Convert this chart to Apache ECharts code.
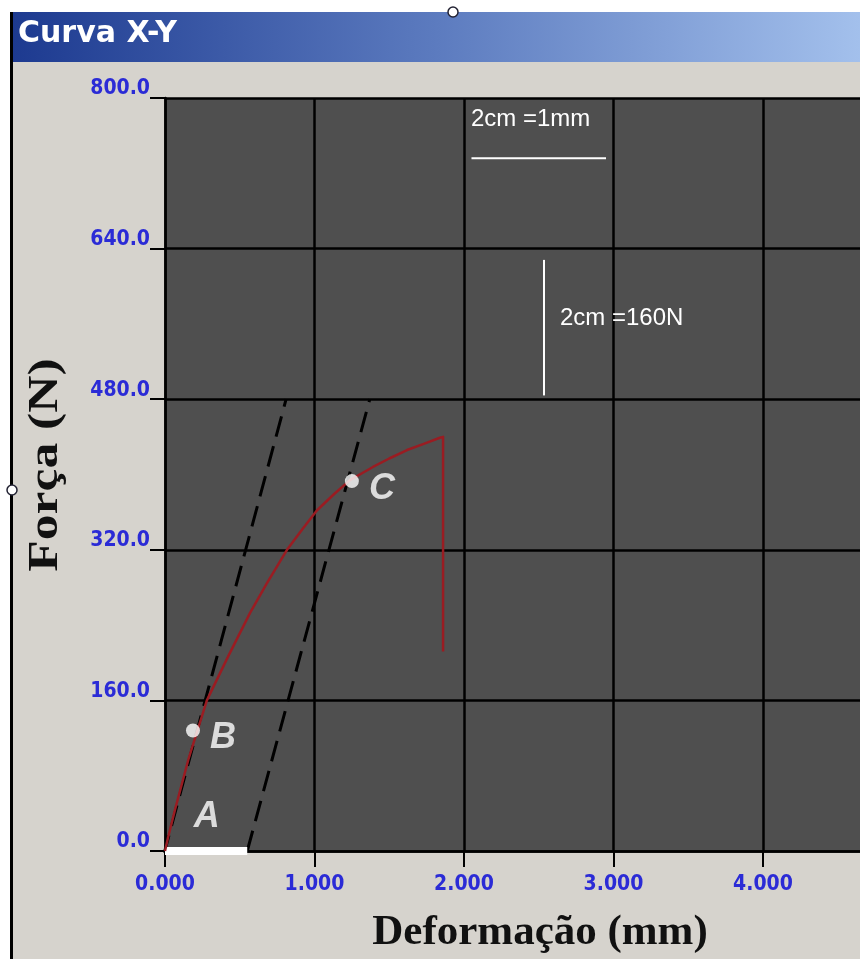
<!DOCTYPE html>
<html><head><meta charset="utf-8">
<script src="https://cdn.jsdelivr.net/npm/echarts@6/dist/echarts.min.js"></script>
<style>html,body{margin:0;padding:0;background:#fff}#c{width:860px;height:959px}</style>
</head><body><div id="c"></div>
<script>
// ---- data ----
const xTickLabels = ['0.000','1.000','2.000','3.000','4.000'];
const yTickLabels = ['0.0','160.0','320.0','480.0','640.0','800.0'];
const curveX = [0, 0.02, 0.067, 0.156, 0.28, 0.42, 0.569, 0.68, 0.816, 0.92, 1.017, 1.13, 1.237, 1.391, 1.50, 1.619, 1.74, 1.839, 1.86, 1.86];
const curveY = [0, 14, 44, 97, 160, 206, 253, 284, 320, 342, 362, 379, 394, 408, 417, 426, 433, 439, 440, 212];
const dashLine1 = [[-0.01, -5], [0.81, 480]];
const dashLine2 = [[0.55, 0], [1.37, 480]];
const segmentA = [[0, 0], [0.55, 0]];
const labelA = [[0.28, 0, 'A']];
const pointsBC = [[0.187, 128, 'B'], [1.25, 393, 'C']];
const scaleBarX = [[2.05, 736], [2.95, 736]];
const scaleBarY = [[2.535, 628], [2.535, 484]];
const titleText = 'Curva X-Y';
const xName = 'Deformação (mm)';
const yName = 'Força (N)';
const scaleXText = '2cm =1mm';
const scaleYText = '2cm =160N';

const curve = curveX.map((x, i) => [x, curveY[i]]);
const chart = echarts.init(document.getElementById('c'));
const blue = '#2b2bd6';
const labelFont = 'DejaVu Sans Condensed, DejaVu Sans';

chart.setOption({
  backgroundColor: '#d6d3cd',
  animation: false,
  grid: {left: 165, top: 98, width: 747.5, bottom: 108, outerBoundsMode: 'none', containLabel: false,
    show: true, backgroundColor: '#4f4f4f', borderWidth: 0},
  xAxis: {
    type: 'value', min: 0, max: 5, interval: 1,
    axisLine: {show: true, lineStyle: {color: '#000', width: 2.5}},
    axisTick: {show: true, length: 16, lineStyle: {color: '#000', width: 2}},
    splitLine: {show: true, lineStyle: {color: '#000', width: 2.5}},
    axisLabel: {color: blue, fontFamily: labelFont, fontWeight: 'bold', fontSize: 21, lineHeight: 22,
      margin: 23, verticalAlign: 'top', showMaxLabel: false,
      formatter: v => (Math.abs(v - Math.round(v)) < 1e-6 ? (xTickLabels[Math.round(v)] || '') : '')}
  },
  yAxis: {
    type: 'value', min: 0, max: 800, interval: 160,
    axisLine: {show: true, lineStyle: {color: '#000', width: 2.5}},
    axisTick: {show: true, length: 15, lineStyle: {color: '#000', width: 2}},
    splitLine: {show: true, lineStyle: {color: '#000', width: 2.5}},
    axisLabel: {color: blue, fontFamily: labelFont, fontWeight: 'bold', fontSize: 21, lineHeight: 18,
      margin: 15, align: 'right', verticalAlign: 'bottom',
      formatter: v => yTickLabels[Math.round(v / 160)] || ''}
  },
  series: [
    {type: 'line', data: dashLine1, symbol: 'none', lineStyle: {color: '#000', width: 3, type: [21, 10]}, z: 2},
    {type: 'line', data: dashLine2, symbol: 'none', lineStyle: {color: '#000', width: 3, type: [21, 10]}, z: 2},
    {type: 'line', data: segmentA, symbol: 'none', clip: false, lineStyle: {color: '#fff', width: 8}, z: 3},
    {type: 'line', data: curve, symbol: 'none', lineStyle: {color: '#9a1c22', width: 2.5, join: 'round'}, z: 4},
    {type: 'line', data: scaleBarX, symbol: 'none', lineStyle: {color: '#fff', width: 2}, z: 3},
    {type: 'line', data: scaleBarY, symbol: 'none', lineStyle: {color: '#fff', width: 2}, z: 3},
    {type: 'scatter', data: pointsBC, symbolSize: 14, itemStyle: {color: '#fff'}, z: 5,
      label: {show: true, position: 'right', distance: 10, formatter: p => p.data[2], color: '#fff',
        fontFamily: 'Liberation Sans, Arial', fontWeight: 'bold', fontStyle: 'italic', fontSize: 36,
        offset: [0, 8]}},
    {type: 'scatter', data: labelA, symbolSize: 0, z: 5,
      label: {show: true, position: 'top', distance: 16, formatter: p => p.data[2], color: '#fff',
        fontFamily: 'Liberation Sans, Arial', fontWeight: 'bold', fontStyle: 'italic', fontSize: 36}}
  ],
  graphic: [
    {type: 'rect', shape: {x: 0, y: 0, width: 860, height: 12}, style: {fill: '#fff'}, z: 10},
    {type: 'rect', shape: {x: 0, y: 0, width: 10, height: 959}, style: {fill: '#fff'}, z: 10},
    {type: 'rect', shape: {x: 10, y: 12, width: 3, height: 947}, style: {fill: '#000'}, z: 10},
    {type: 'rect', shape: {x: 13, y: 12, width: 847, height: 50},
      style: {fill: new echarts.graphic.LinearGradient(0, 0, 1, 0, [
        {offset: 0, color: '#1d3a90'}, {offset: 0.5, color: '#5c7bbf'}, {offset: 1, color: '#a3c0ec'}])}, z: 10},
    {type: 'text', left: 18, top: 19, style: {text: titleText, fill: '#fff', font: 'bold 30px "DejaVu Sans"'}, z: 11},
    {type: 'circle', shape: {cx: 453, cy: 12, r: 5}, style: {fill: '#fff', stroke: '#223', lineWidth: 1.5}, z: 12},
    {type: 'circle', shape: {cx: 12, cy: 490, r: 5}, style: {fill: '#fff', stroke: '#223', lineWidth: 1.5}, z: 12},
    {type: 'text', x: 540, y: 933, style: {text: xName, fill: '#111', font: 'bold 43px "Liberation Serif", "Times New Roman", serif', align: 'center', verticalAlign: 'middle'}, z: 11},
    {type: 'text', x: 46, y: 465, rotation: Math.PI / 2, scaleX: 1.2, style: {text: yName, fill: '#111', font: 'bold 43px "Liberation Serif", "Times New Roman", serif', align: 'center', verticalAlign: 'middle'}, z: 11},
    {type: 'text', x: 471, y: 119, style: {text: scaleXText, fill: '#fff', font: '24px "Liberation Sans", Arial', verticalAlign: 'middle'}, z: 11},
    {type: 'text', x: 560, y: 318, style: {text: scaleYText, fill: '#fff', font: '24px "Liberation Sans", Arial', verticalAlign: 'middle'}, z: 11}
  ]
});
</script></body></html>
